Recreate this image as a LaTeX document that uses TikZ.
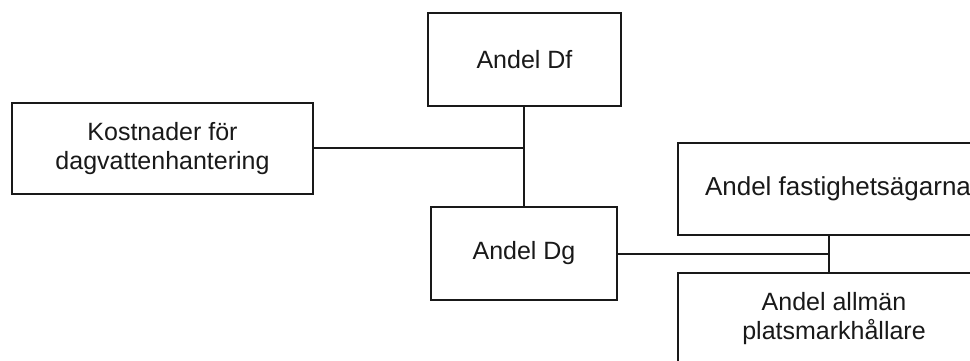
\documentclass[tikz,border=0pt]{standalone}
\usepackage{fontspec}
\setmainfont{Liberation Sans}
\begin{document}
\begin{tikzpicture}[x=1pt,y=-1pt,
  box/.style={draw=black!90, line width=2pt, fill=white, inner sep=0pt, align=center,
    font=\fontsize{25}{29}\selectfont, text=black!90},
  conn/.style={draw=black!90, line width=2pt}]
\useasboundingbox (0,0) rectangle (970,360);
\begin{scope}
\clip (0,0) rectangle (970,360);
\node[box, minimum width=301pt, minimum height=91pt] (kost) at (162.5,148.5) {Kostnader för\\dagvattenhantering};
\node[box, minimum width=193pt, minimum height=93pt] (df) at (524.5,59.5) {Andel Df};
\node[box, minimum width=186pt, minimum height=93pt] (dg) at (524,253.5) {Andel Dg};
\node[box, minimum width=320pt, minimum height=92pt, font=\fontsize{26}{29}\selectfont] (fast) at (838,189) {Andel fastighetsägarna};
\node[box, minimum width=312pt, minimum height=92pt] (allm) at (834,319) {Andel allmän\\platsmarkhållare};
\coordinate (j1) at (524,148);
\coordinate (j2) at (829,254);
\draw[conn] (kost.east |- j1) -- (j1);
\draw[conn] (df.south -| j1) -- (dg.north -| j1);
\draw[conn] (dg.east |- j2) -- (j2);
\draw[conn] (fast.south -| j2) -- (allm.north -| j2);
\end{scope}
\end{tikzpicture}
\end{document}
